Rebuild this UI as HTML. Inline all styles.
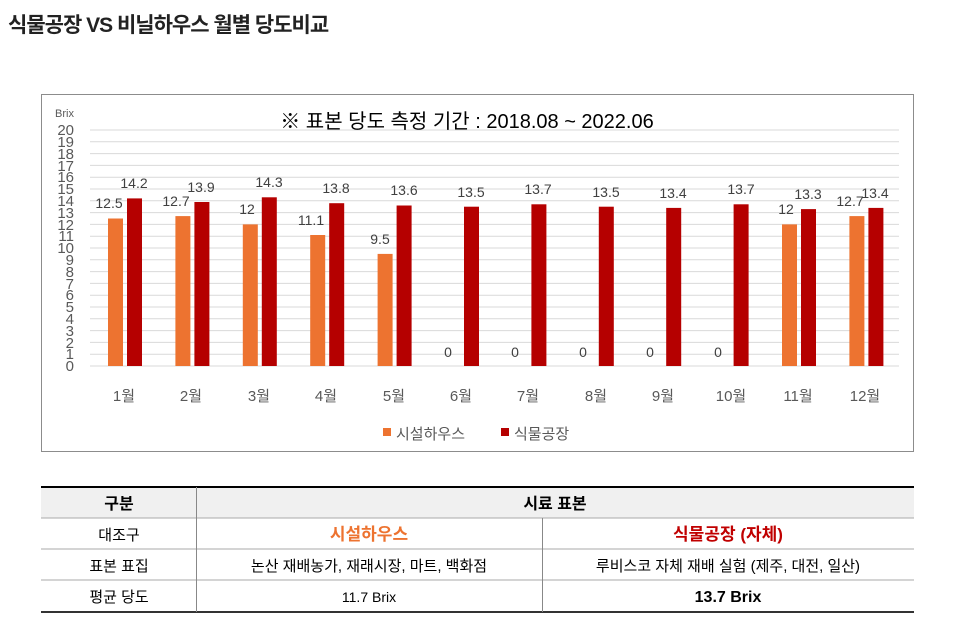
<!DOCTYPE html>
<html><head><meta charset="utf-8"><style>
body{margin:0;width:960px;height:629px;background:#fff;overflow:hidden;font-family:"Liberation Sans","Noto Sans CJK KR",sans-serif}
svg{position:absolute;left:0;top:0}
text{font-family:"Liberation Sans","Noto Sans CJK KR",sans-serif}
</style></head><body>
<svg width="960" height="629" xmlns="http://www.w3.org/2000/svg">
<text x="8" y="32" font-size="21" font-weight="bold" fill="#222" letter-spacing="-1">식물공장 VS 비닐하우스 월별 당도비교</text>
<rect x="41.5" y="94.5" width="872" height="357" fill="#fff" stroke="#8c8c8c"/>
<g stroke="#d9d9d9" stroke-width="1">
<line x1="90" x2="899" y1="130" y2="130"/><line x1="90" x2="899" y1="141.8" y2="141.8"/><line x1="90" x2="899" y1="153.6" y2="153.6"/><line x1="90" x2="899" y1="165.4" y2="165.4"/><line x1="90" x2="899" y1="177.2" y2="177.2"/><line x1="90" x2="899" y1="189" y2="189"/><line x1="90" x2="899" y1="200.8" y2="200.8"/><line x1="90" x2="899" y1="212.6" y2="212.6"/><line x1="90" x2="899" y1="224.4" y2="224.4"/><line x1="90" x2="899" y1="236.2" y2="236.2"/><line x1="90" x2="899" y1="248" y2="248"/><line x1="90" x2="899" y1="259.8" y2="259.8"/><line x1="90" x2="899" y1="271.6" y2="271.6"/><line x1="90" x2="899" y1="283.4" y2="283.4"/><line x1="90" x2="899" y1="295.2" y2="295.2"/><line x1="90" x2="899" y1="307" y2="307"/><line x1="90" x2="899" y1="318.8" y2="318.8"/><line x1="90" x2="899" y1="330.6" y2="330.6"/><line x1="90" x2="899" y1="342.4" y2="342.4"/><line x1="90" x2="899" y1="354.2" y2="354.2"/><line x1="90" x2="899" y1="366" y2="366"/>
</g>
<text x="55" y="117" font-size="11" fill="#595959">Brix</text>
<g font-size="15" fill="#595959" text-anchor="end">
<text x="74" y="135">20</text><text x="74" y="147">19</text><text x="74" y="159">18</text><text x="74" y="171">17</text><text x="74" y="182">16</text><text x="74" y="194">15</text><text x="74" y="206">14</text><text x="74" y="218">13</text><text x="74" y="230">12</text><text x="74" y="241">11</text><text x="74" y="253">10</text><text x="74" y="265">9</text><text x="74" y="277">8</text><text x="74" y="289">7</text><text x="74" y="300">6</text><text x="74" y="312">5</text><text x="74" y="324">4</text><text x="74" y="336">3</text><text x="74" y="348">2</text><text x="74" y="359">1</text><text x="74" y="371">0</text>
</g>
<text x="467" y="128" font-size="20" fill="#000" text-anchor="middle">※ 표본 당도 측정 기간 : 2018.08 ~ 2022.06</text>
<g fill="#ed7330">
<rect x="108" y="218.5" width="15" height="147.5"/><rect x="175.4" y="216.1" width="15" height="149.9"/><rect x="242.8" y="224.4" width="15" height="141.6"/><rect x="310.2" y="235" width="15" height="131"/><rect x="377.6" y="253.9" width="15" height="112.1"/><rect x="782" y="224.4" width="15" height="141.6"/><rect x="849.4" y="216.1" width="15" height="149.9"/>
</g>
<g fill="#b50000">
<rect x="127" y="198.4" width="15" height="167.6"/><rect x="194.4" y="202" width="15" height="164"/><rect x="261.8" y="197.3" width="15" height="168.7"/><rect x="329.2" y="203.2" width="15" height="162.8"/><rect x="396.6" y="205.5" width="15" height="160.5"/><rect x="464" y="206.7" width="15" height="159.3"/><rect x="531.4" y="204.3" width="15" height="161.7"/><rect x="598.8" y="206.7" width="15" height="159.3"/><rect x="666.2" y="207.9" width="15" height="158.1"/><rect x="733.6" y="204.3" width="15" height="161.7"/><rect x="801" y="209.1" width="15" height="156.9"/><rect x="868.4" y="207.9" width="15" height="158.1"/>
</g>
<g font-size="14" fill="#404040" text-anchor="middle">
<text x="109" y="208">12.5</text><text x="176" y="206">12.7</text><text x="247" y="214">12</text><text x="311" y="225">11.1</text><text x="380" y="244">9.5</text>
<text x="448" y="357">0</text><text x="515" y="357">0</text><text x="583" y="357">0</text><text x="650" y="357">0</text><text x="718" y="357">0</text>
<text x="786" y="214">12</text><text x="850" y="206">12.7</text>
<text x="134" y="188">14.2</text><text x="201" y="192">13.9</text><text x="269" y="187">14.3</text><text x="336" y="193">13.8</text><text x="404" y="195">13.6</text><text x="471" y="197">13.5</text><text x="538" y="194">13.7</text><text x="606" y="197">13.5</text><text x="673" y="198">13.4</text><text x="741" y="194">13.7</text><text x="808" y="199">13.3</text><text x="875" y="198">13.4</text>
</g>
<g font-size="15" fill="#595959" text-anchor="middle">
<text x="124" y="401">1월</text><text x="191" y="401">2월</text><text x="259" y="401">3월</text><text x="326" y="401">4월</text><text x="394" y="401">5월</text><text x="461" y="401">6월</text><text x="528" y="401">7월</text><text x="596" y="401">8월</text><text x="663" y="401">9월</text><text x="731" y="401">10월</text><text x="798" y="401">11월</text><text x="865" y="401">12월</text>
</g>
<rect x="383" y="428" width="8" height="8" fill="#ed7330"/>
<text x="396" y="439" font-size="15" fill="#595959">시설하우스</text>
<rect x="501" y="428" width="8" height="8" fill="#b50000"/>
<text x="514" y="439" font-size="15" fill="#595959">식물공장</text>
<!-- table -->
<rect x="41" y="487" width="873" height="31" fill="#f0f0f0"/>
<line x1="41" x2="914" y1="487" y2="487" stroke="#000" stroke-width="2"/>
<line x1="41" x2="914" y1="518" y2="518" stroke="#aaa"/>
<line x1="41" x2="914" y1="549" y2="549" stroke="#aaa"/>
<line x1="41" x2="914" y1="580" y2="580" stroke="#aaa"/>
<line x1="41" x2="914" y1="612" y2="612" stroke="#333" stroke-width="2"/>
<line x1="196.5" x2="196.5" y1="487" y2="612" stroke="#888"/>
<line x1="542.5" x2="542.5" y1="518" y2="612" stroke="#888"/>
<g font-size="15" fill="#000" text-anchor="middle">
<text x="119" y="509" font-size="16" font-weight="bold">구분</text>
<text x="555" y="509" font-size="16" font-weight="bold">시료 표본</text>
<text x="119" y="540">대조구</text>
<text x="369" y="540" font-size="17" font-weight="bold" fill="#ed7330">시설하우스</text>
<text x="728" y="540" font-size="17" font-weight="bold" fill="#c00000">식물공장 (자체)</text>
<text x="119" y="571">표본 표집</text>
<text x="369" y="571">논산 재배농가, 재래시장, 마트, 백화점</text>
<text x="728" y="571">루비스코 자체 재배 실험 (제주, 대전, 일산)</text>
<text x="119" y="602">평균 당도</text>
<text x="369" y="602" font-size="14">11.7 Brix</text>
<text x="728" y="602" font-size="16" font-weight="bold">13.7 Brix</text>
</g>
</svg>
</body></html>
